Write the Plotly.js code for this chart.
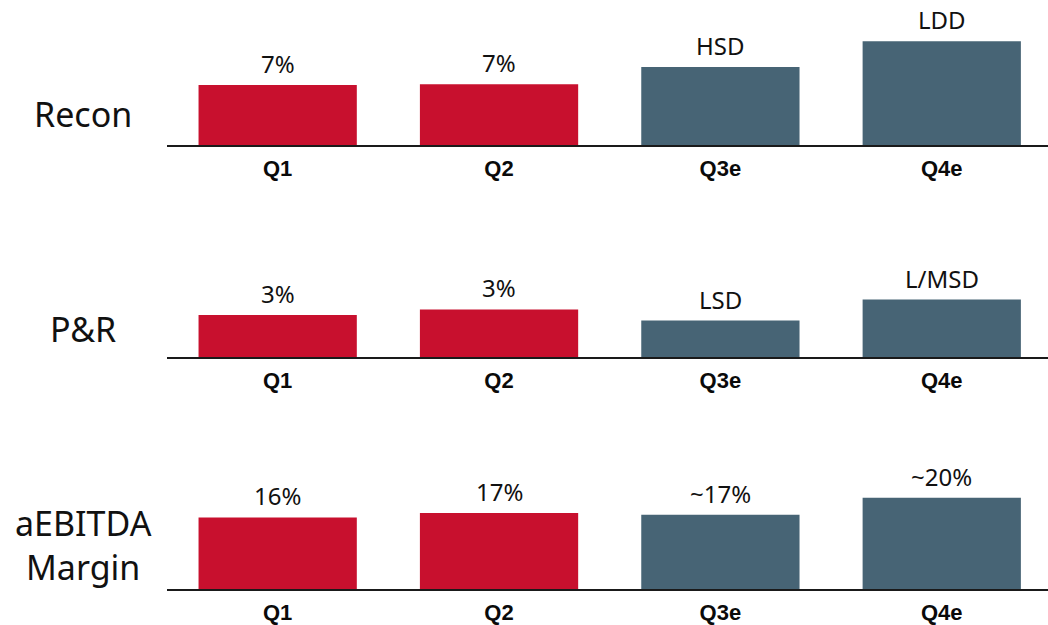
<!DOCTYPE html>
<html>
<head>
<meta charset="utf-8">
<script src="https://cdn.plot.ly/plotly-3.0.1.min.js"></script>
<style>html,body{margin:0;padding:0;background:#fff;}#chart{width:1048px;height:625px;}</style>
</head>
<body>
<div id="chart"></div>
<script>
const categories = ["Q1", "Q2", "Q3e", "Q4e"];
const panelNames = ["Recon", "P&R", "aEBITDA<br>Margin"];
const reconValues = [7, 7.1, 9.1, 12.1];
const reconLabels = ["7%", "7%", "HSD", "LDD"];
const prValues = [3.0, 3.4, 2.6, 4.1];
const prLabels = ["3%", "3%", "LSD", "L/MSD"];
const marginValues = [16, 17, 16.6, 20.4];
const marginLabels = ["16%", "17%", "~17%", "~20%"];
const barColors = ["#C8102E", "#C8102E", "#476475", "#476475"];

const panels = [
  {values: reconValues, labels: reconLabels, domain: [1 - 145/625, 1 - 15/625], max: 130/8.57, nameY: 1 - 114/625},
  {values: prValues, labels: prLabels, domain: [1 - 357/625, 1 - 257/625], max: 100/14, nameY: 1 - 329/625},
  {values: marginValues, labels: marginLabels, domain: [1 - 589/625, 1 - 459/625], max: 130/4.47, nameY: 1 - 545/625}
];

const textFont = {family: "Noto Sans, Open Sans, sans-serif", size: 24, color: "#111"};
const data = [];
const annotations = [];
const layout = {
  width: 1048, height: 625,
  margin: {l: 167, r: 0, t: 0, b: 0},
  paper_bgcolor: "#fff", plot_bgcolor: "#fff",
  showlegend: false,
  bargap: 0.285,
  annotations: annotations
};

panels.forEach((p, i) => {
  const n = i === 0 ? "" : String(i + 1);
  data.push({
    type: "bar", x: categories, y: p.values,
    xaxis: "x" + n, yaxis: "y" + n,
    marker: {color: barColors, line: {width: 0}},
    hoverinfo: "skip"
  });
  layout["xaxis" + n] = {
    domain: [0, 1], anchor: "y" + n, range: [-0.5, 3.48],
    showline: true, linecolor: "#1a1a1a", linewidth: 2,
    showgrid: false, zeroline: false, ticks: "",
    ticklabelstandoff: 3,
    tickfont: {family: "Liberation Sans, Arial, sans-serif", size: 22, color: "#0a0a0a", weight: "bold"},
    fixedrange: true
  };
  layout["yaxis" + n] = {
    domain: p.domain, anchor: "x" + n, range: [0, p.max],
    visible: false, showgrid: false, zeroline: false, fixedrange: true
  };
  categories.forEach((c, j) => {
    annotations.push({
      xref: "x" + n, yref: "y" + n, x: c, y: p.values[j],
      text: p.labels[j], showarrow: false,
      xanchor: "center", yanchor: "bottom", yshift: 3,
      font: textFont
    });
  });
  annotations.push({
    xref: "paper", yref: "paper",
    x: -84/881, y: p.nameY,
    xanchor: "center", yanchor: "middle",
    text: panelNames[i], showarrow: false,
    font: {family: "Noto Sans, Open Sans, sans-serif", size: 34, color: "#111"}
  });
});

Plotly.newPlot("chart", data, layout, {staticPlot: true, displayModeBar: false});
</script>
</body>
</html>
